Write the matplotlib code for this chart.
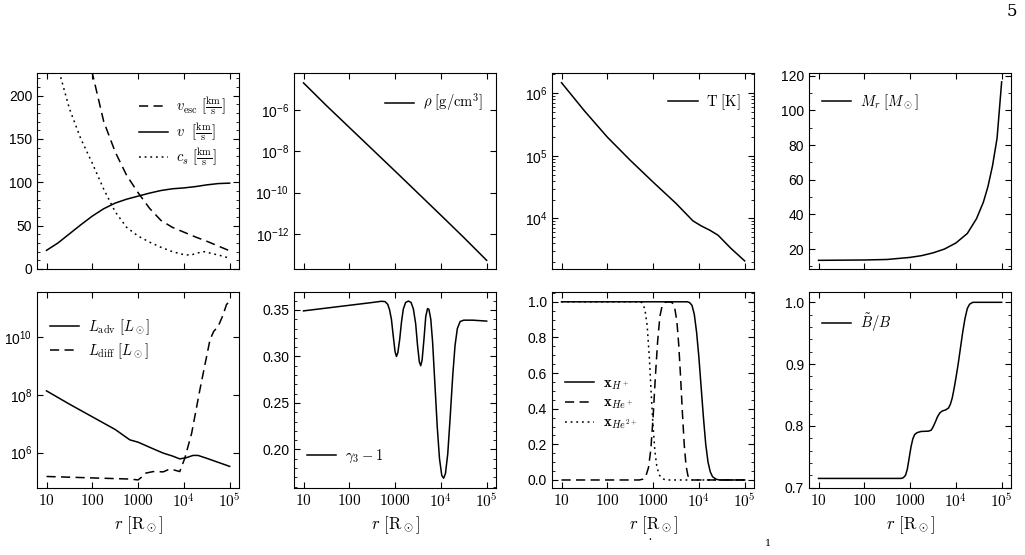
import matplotlib
matplotlib.use("Agg")
import matplotlib.pyplot as plt
from matplotlib.ticker import AutoMinorLocator, NullLocator, LogLocator, NullFormatter
import numpy as np

plt.rcParams["font.family"] = ["Liberation Sans", "DejaVu Sans"]
plt.rcParams["mathtext.fontset"] = "cm"
plt.rcParams["font.size"] = 9

# ---- data (log10 r in R_sun) ----
lr_v = [1.0, 1.25, 1.5, 1.75, 2.0, 2.25, 2.5, 2.75, 3.0, 3.25, 3.5, 3.75, 4.0, 4.25, 4.5, 4.75, 5.0]
v = [21.5, 30, 40.5, 51, 61, 69.5, 76, 80.5, 84, 87.5, 90.5, 92.5, 93.5, 95, 97, 98.5, 99]
lr_vesc = [1.0, 1.5, 1.75, 2.0, 2.25, 2.5, 2.75, 3.0, 3.25, 3.5, 3.75, 4.0, 4.25, 4.5, 4.75, 5.0]
v_esc = [700, 400, 300, 226, 170, 135, 108, 88, 70, 56, 48, 42.5, 37, 32, 26.5, 21]
lr_cs = [1.0, 1.29, 1.5, 1.75, 2.0, 2.25, 2.5, 2.75, 3.0, 3.25, 3.5, 3.75, 4.0, 4.15, 4.3, 4.45, 4.6, 4.8, 5.0]
c_s = [330, 225, 185, 150, 122, 92, 66, 48, 38, 31, 25, 20, 16.5, 16, 18.5, 20, 18, 15.5, 12.5]

lr_rho = [1.0, 1.5, 2.0, 2.5, 3.0, 3.5, 4.0, 4.5, 5.0]
log_rho = [-4.68, -5.78, -6.84, -7.90, -8.96, -10.03, -11.1, -12.18, -13.29]

lr_T = [1.0, 1.5, 2.0, 2.5, 3.0, 3.5, 3.87, 4.05, 4.24, 4.42, 4.7, 5.0]
log_T = [6.17, 5.72, 5.3, 4.93, 4.58, 4.24, 3.96, 3.88, 3.81, 3.73, 3.52, 3.32]

lr_M = [1.0, 2.0, 2.5, 3.0, 3.25, 3.5, 3.75, 4.0, 4.25, 4.45, 4.6, 4.7, 4.8, 4.9, 5.0]
M_r = [13.5, 13.7, 14.0, 15.2, 16.2, 17.8, 20.0, 23.5, 29.0, 37.5, 47, 56, 68, 84, 116.5]

lr_Ladv = [1.0, 1.5, 2.0, 2.5, 2.82, 3.0, 3.3, 3.55, 3.75, 3.91, 4.05, 4.2, 4.31, 4.5, 4.75, 5.0]
log_Ladv = [8.14, 7.68, 7.24, 6.8, 6.44, 6.36, 6.15, 5.98, 5.88, 5.78, 5.82, 5.9, 5.9, 5.8, 5.66, 5.52]
lr_Ldiff = [1.0, 2.0, 2.82, 3.0, 3.08, 3.15, 3.33, 3.55, 3.65, 3.73, 3.91, 4.02, 4.17, 4.35, 4.57, 4.65, 4.75, 4.85, 4.93, 4.99]
log_Ldiff = [5.17, 5.12, 5.08, 5.05, 5.15, 5.28, 5.34, 5.33, 5.4, 5.42, 5.34, 5.8, 6.67, 8.18, 9.91, 10.2, 10.38, 10.75, 11.13, 11.24]

lr_g = [1.0, 1.5, 2.0, 2.5, 2.7, 2.78, 2.84, 2.88, 2.92, 2.96, 3.0, 3.03, 3.06, 3.1, 3.14, 3.18, 3.23,
        3.29, 3.35, 3.4, 3.45, 3.49, 3.53, 3.56, 3.59, 3.63, 3.67, 3.71, 3.74, 3.78, 3.82, 3.87, 3.92,
        3.97, 4.02, 4.06, 4.1, 4.15, 4.2, 4.26, 4.31, 4.36, 4.42, 4.5, 4.7, 5.0]
gamma = [0.349, 0.352, 0.355, 0.358, 0.3593, 0.359, 0.356, 0.350, 0.340, 0.322, 0.305, 0.300, 0.304,
         0.318, 0.337, 0.351, 0.358, 0.3596, 0.358, 0.351, 0.335, 0.312, 0.294, 0.290, 0.296, 0.318,
         0.343, 0.3515, 0.3505, 0.340, 0.315, 0.270, 0.225, 0.190, 0.172, 0.169, 0.174, 0.195, 0.232,
         0.280, 0.312, 0.330, 0.3375, 0.339, 0.339, 0.338]

lr_xH = [1.0, 3.75, 3.8, 3.85, 3.9, 3.95, 4.0, 4.05, 4.1, 4.15, 4.2, 4.25, 4.3, 4.38, 4.45, 5.0]
x_H = [1.0, 1.0, 0.995, 0.98, 0.93, 0.83, 0.69, 0.52, 0.35, 0.2, 0.1, 0.045, 0.018, 0.004, 0.0, 0.0]
lr_xHe = [1.0, 2.7, 2.78, 2.84, 2.9, 2.95, 3.0, 3.05, 3.1, 3.15, 3.2, 3.26, 3.35, 3.42, 3.47, 3.52,
          3.56, 3.6, 3.64, 3.68, 3.72, 3.76, 3.8, 3.85, 5.0]
x_He = [0.0, 0.0, 0.005, 0.02, 0.07, 0.17, 0.35, 0.58, 0.78, 0.92, 0.98, 0.997, 1.0, 0.995, 0.97, 0.89,
        0.76, 0.58, 0.38, 0.2, 0.08, 0.025, 0.006, 0.0, 0.0]
lr_xHe2 = [1.0, 2.7, 2.76, 2.82, 2.87, 2.92, 2.96, 3.0, 3.04, 3.08, 3.13, 3.2, 3.28, 5.0]
x_He2 = [1.0, 1.0, 0.995, 0.96, 0.87, 0.68, 0.48, 0.3, 0.16, 0.08, 0.03, 0.008, 0.0, 0.0]

lr_B = [1.0, 2.8, 2.85, 2.9, 2.94, 2.98, 3.02, 3.06, 3.1, 3.15, 3.24, 3.4, 3.46, 3.5, 3.55, 3.6, 3.65,
        3.7, 3.78, 3.84, 3.88, 3.92, 3.96, 4.0, 4.05, 4.1, 4.15, 4.2, 4.25, 4.3, 4.37, 5.0]
B_ratio = [0.715, 0.715, 0.716, 0.72, 0.73, 0.748, 0.766, 0.779, 0.786, 0.789, 0.791, 0.7915, 0.793,
           0.798, 0.806, 0.815, 0.821, 0.824, 0.826, 0.829, 0.835, 0.845, 0.86, 0.877, 0.9, 0.926,
           0.952, 0.974, 0.99, 0.997, 1.0, 1.0]

xtick_vals = [10, 100, 1000, 1e4, 1e5]
xtick_labels = [r"$10$", r"$100$", r"$1000$", r"$10^4$", r"$10^5$"]


def r(lr):
    return 10 ** np.array(lr)


fig = plt.figure(figsize=(10.25, 5.55), dpi=100)
W, H = 1025.0, 555.0
lefts = [37, 294, 552, 809]
rows = [(73, 269), (292, 488)]
axes = []
for ri, (top, bot) in enumerate(rows):
    for left in lefts:
        ax = fig.add_axes([left / W, 1 - bot / H, 202 / W, (bot - top) / H])
        ax.set_xscale("log")
        ax.set_xlim(6.2, 1.6e5)
        ax.set_xticks(xtick_vals)
        ax.xaxis.set_minor_locator(NullLocator())
        ax.tick_params(which="both", direction="in", top=True, right=True, labelsize=10)
        ax.tick_params(which="major", length=4, width=0.8)
        ax.tick_params(which="minor", length=2, width=0.6)
        if ri == 0:
            ax.set_xticklabels([])
        else:
            ax.set_xticklabels(xtick_labels, fontsize=11)
            ax.set_xlabel(r"$r\ [{\rm R}_\odot]$", fontsize=12, labelpad=2)
        axes.append(ax)

lw = 1.1
leg_kw = dict(frameon=False, fontsize=10.5, handlelength=2.0, handletextpad=0.6, labelspacing=0.3)
dash = (0, (6, 3.5))
dot = (0, (1.2, 2.5))

# velocities
ax = axes[0]
ax.plot(r(lr_vesc), v_esc, "k", lw=lw, ls=dash, label=r"$v_{\rm esc}\ [\frac{\rm km}{\rm s}]$")
ax.plot(r(lr_v), v, "k", lw=lw, label=r"$v\ \ [\frac{\rm km}{\rm s}]$")
ax.plot(r(lr_cs), c_s, "k", lw=lw, ls=dot, label=r"$c_s\ [\frac{\rm km}{\rm s}]$")
ax.set_ylim(0, 226)
ax.set_yticks([0, 50, 100, 150, 200])
ax.yaxis.set_minor_locator(AutoMinorLocator(5))
ax.legend(loc="upper right", bbox_to_anchor=(1.0, 0.95), **leg_kw)

# density
ax = axes[1]
ax.set_yscale("log")
ax.plot(r(lr_rho), 10 ** np.array(log_rho), "k", lw=lw, label=r"$\rho\ [{\rm g/cm^3}]$")
ax.set_ylim(10 ** -13.71, 10 ** -4.2)
ax.set_yticks([1e-6, 1e-8, 1e-10, 1e-12])
ax.yaxis.set_minor_locator(NullLocator())
ax.legend(loc="upper right", bbox_to_anchor=(1.0, 0.97), **leg_kw)

# temperature
ax = axes[2]
ax.set_yscale("log")
ax.plot(r(lr_T), 10 ** np.array(log_T), "k", lw=lw, label=r"${\rm T\ [K]}$")
ax.set_ylim(10 ** 3.19, 10 ** 6.325)
ax.set_yticks([1e4, 1e5, 1e6])
ax.yaxis.set_minor_locator(LogLocator(subs=np.arange(2, 10)))
ax.yaxis.set_minor_formatter(NullFormatter())
ax.legend(loc="upper right", bbox_to_anchor=(1.0, 0.97), **leg_kw)

# enclosed mass
ax = axes[3]
ax.plot(r(lr_M), M_r, "k", lw=lw, label=r"$M_r\ [M_\odot]$")
ax.set_ylim(8.5, 121.6)
ax.set_yticks([20, 40, 60, 80, 100, 120])
ax.yaxis.set_minor_locator(AutoMinorLocator(2))
ax.legend(loc="upper left", bbox_to_anchor=(0.0, 0.97), **leg_kw)

# luminosities
ax = axes[4]
ax.set_yscale("log")
ax.plot(r(lr_Ladv), 10 ** np.array(log_Ladv), "k", lw=lw, label=r"$L_{\rm adv}\ [L_\odot]$")
ax.plot(r(lr_Ldiff), 10 ** np.array(log_Ldiff), "k", lw=lw, ls=dash, label=r"$L_{\rm diff}\ [L_\odot]$")
ax.set_ylim(10 ** 4.77, 10 ** 11.57)
ax.set_yticks([1e6, 1e8, 1e10])
ax.yaxis.set_minor_locator(NullLocator())
ax.legend(loc="upper left", bbox_to_anchor=(0.0, 0.94), **leg_kw)

# gamma_3 - 1
ax = axes[5]
ax.plot(r(lr_g), gamma, "k", lw=lw, label=r"$\gamma_3 - 1$")
ax.set_ylim(0.1585, 0.3693)
ax.set_yticks([0.20, 0.25, 0.30, 0.35])
ax.yaxis.set_minor_locator(AutoMinorLocator(5))
ax.legend(loc="lower left", bbox_to_anchor=(0.0, 0.05), **leg_kw)

# ionisation fractions
ax = axes[6]
ax.plot(r(lr_xH), x_H, "k", lw=lw, label=r"$\mathbf{x}_{H^+}$")
ax.plot(r(lr_xHe), x_He, "k", lw=lw, ls=dash, label=r"$\mathbf{x}_{He^+}$")
ax.plot(r(lr_xHe2), x_He2, "k", lw=lw, ls=dot, label=r"$\mathbf{x}_{He^{2+}}$")
ax.set_ylim(-0.045, 1.055)
ax.set_yticks([0.0, 0.2, 0.4, 0.6, 0.8, 1.0])
ax.yaxis.set_minor_locator(AutoMinorLocator(4))
ax.legend(loc="center left", bbox_to_anchor=(0.0, 0.43), **leg_kw)

# B tilde / B
ax = axes[7]
ax.plot(r(lr_B), B_ratio, "k", lw=lw, label=r"$\tilde{B}/B$")
ax.set_ylim(0.6995, 1.0167)
ax.set_yticks([0.7, 0.8, 0.9, 1.0])
ax.yaxis.set_minor_locator(AutoMinorLocator(5))
ax.legend(loc="upper left", bbox_to_anchor=(0.0, 0.97), **leg_kw)

fig.text(1012 / W, 1 - 12 / H, "5", fontsize=12, ha="center", va="center", family="DejaVu Serif")
fig.text(650 / W, 1 - 546 / H, "˙", fontsize=10, ha="center", va="center", family="DejaVu Serif")
fig.text(768 / W, 1 - 543 / H, "1", fontsize=7, ha="center", va="center", family="DejaVu Serif")

fig.savefig("out.png", dpi=100)
